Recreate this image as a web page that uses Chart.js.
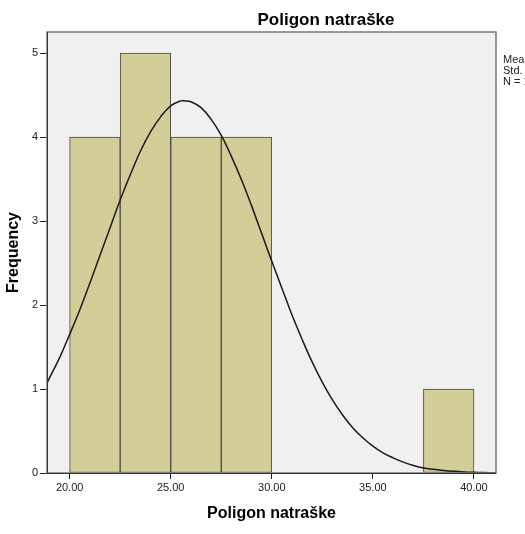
<!DOCTYPE html>
<html>
<head>
<meta charset="utf-8">
<script src="https://cdn.jsdelivr.net/npm/chart.js@4/dist/chart.umd.min.js"></script>
<style>
  body { margin: 0; background: #fff; }
  #wrap { width: 525px; height: 534px; }
</style>
</head>
<body>
<div id="wrap"><canvas id="hist"></canvas></div>
<script>
// histogram bins (start of each 2.5 wide bin) and counts
const binStarts = [20, 22.5, 25, 27.5, 30, 32.5, 35, 37.5];
const binCounts = [4, 5, 4, 4, 0, 0, 0, 1];
const binWidth = 2.5;

// normal curve
const curveX = [18.88, 19, 19.5, 20, 20.5, 21, 21.5, 22, 22.5, 23, 23.5, 24, 24.5, 25, 25.5, 25.7, 26, 26.5, 27, 27.5, 28, 28.5, 29, 29.5, 30, 30.5, 31, 31.5, 32, 32.5, 33, 33.5, 34, 34.5, 35, 35.5, 36, 36.5, 37, 37.5, 38, 38.5, 39, 39.5, 40, 40.5, 41.09];
const curveY = [1.07, 1.13, 1.37, 1.65, 1.94, 2.26, 2.59, 2.92, 3.25, 3.55, 3.83, 4.06, 4.24, 4.37, 4.43, 4.43, 4.42, 4.35, 4.21, 4.02, 3.77, 3.49, 3.18, 2.85, 2.52, 2.20, 1.88, 1.59, 1.32, 1.08, 0.87, 0.69, 0.54, 0.42, 0.32, 0.24, 0.18, 0.13, 0.09, 0.06, 0.044, 0.03, 0.02, 0.013, 0.009, 0.006, 0.003];

const xTicks = [20, 25, 30, 35, 40];
const yTicks = [0, 1, 2, 3, 4, 5];
const statLines = ['Mean = 25.69', 'Std. Dev. = 4.05', 'N = 18'];
const chartTitle = 'Poligon natraške';

Chart.defaults.font.family = '"Liberation Sans", Arial, sans-serif';
Chart.defaults.color = '#222';

const spssFrame = {
  id: 'spssFrame',
  beforeDatasetsDraw(chart) {
    const a = chart.chartArea, ctx = chart.ctx;
    ctx.save();
    ctx.fillStyle = '#f0f0f0';
    ctx.fillRect(a.left, a.top, a.right - a.left, a.bottom - a.top);
    ctx.restore();
  },
  afterDraw(chart) {
    const a = chart.chartArea, ctx = chart.ctx;
    ctx.save();
    ctx.strokeStyle = '#7a7a7a';
    ctx.lineWidth = 1.5;
    ctx.strokeRect(a.left, a.top, a.right - a.left, a.bottom - a.top);
    ctx.strokeStyle = '#333';
    ctx.lineWidth = 1;
    ctx.beginPath();
    ctx.moveTo(a.left, a.bottom + 0.5);
    ctx.lineTo(a.right, a.bottom + 0.5);
    ctx.moveTo(a.left + 0.5, a.top);
    ctx.lineTo(a.left + 0.5, a.bottom);
    ctx.stroke();

    ctx.fillStyle = '#000';
    ctx.font = 'bold 17px "Liberation Sans", Arial, sans-serif';
    ctx.textAlign = 'center';
    ctx.textBaseline = 'middle';
    ctx.fillText(chartTitle, 326, 20);

    ctx.font = '11px "Liberation Sans", Arial, sans-serif';
    ctx.textAlign = 'left';
    ctx.fillStyle = '#222';
    statLines.forEach((t, i) => ctx.fillText(t, 503, 60 + i * 11));
    ctx.restore();
  }
};

new Chart(document.getElementById('hist'), {
  type: 'bar',
  data: {
    datasets: [{
      type: 'bar',
      data: binStarts.map((s, i) => ({ x: s + binWidth / 2, y: binCounts[i] || null })),
      backgroundColor: '#d3ce97',
      borderColor: '#4a4a4a',
      borderWidth: 1,
      borderSkipped: false,
      barPercentage: 1,
      categoryPercentage: 1,
      grouped: false,
      order: 2
    }, {
      type: 'line',
      data: curveX.map((x, i) => ({ x: x, y: curveY[i] })),
      borderColor: '#1a1a1a',
      borderWidth: 1.5,
      pointRadius: 0,
      tension: 0.4,
      fill: false,
      order: 1
    }]
  },
  options: {
    responsive: true,
    maintainAspectRatio: false,
    animation: false,
    layout: { padding: { top: 32, right: 29, left: 0, bottom: 0 } },
    plugins: { legend: { display: false }, tooltip: { enabled: false } },
    scales: {
      x: {
        type: 'linear',
        min: 18.88,
        max: 41.09,
        offset: false,
        afterBuildTicks: s => { s.ticks = xTicks.map(v => ({ value: v })); },
        afterFit: s => { s.height = 61; },
        ticks: { callback: v => v.toFixed(2), font: { size: 11 }, padding: 2, maxRotation: 0 },
        grid: { offset: false, drawOnChartArea: false, drawTicks: true, tickLength: 6, color: '#222' },
        border: { display: false },
        title: { display: true, text: 'Poligon natraške', font: { size: 16, weight: 'bold' }, color: '#000', padding: { top: 0, bottom: 11 } }
      },
      y: {
        min: 0,
        max: 5.25,
        afterBuildTicks: s => { s.ticks = yTicks.map(v => ({ value: v })); },
        afterFit: s => { s.width = 47; },
        ticks: { font: { size: 11 }, padding: 2 },
        grid: { offset: false, drawOnChartArea: false, drawTicks: true, tickLength: 7, color: '#222' },
        border: { display: false },
        title: { display: true, text: 'Frequency', font: { size: 16, weight: 'bold' }, color: '#000', padding: { top: 4, bottom: 0 } }
      }
    }
  },
  plugins: [spssFrame]
});
</script>
</body>
</html>
